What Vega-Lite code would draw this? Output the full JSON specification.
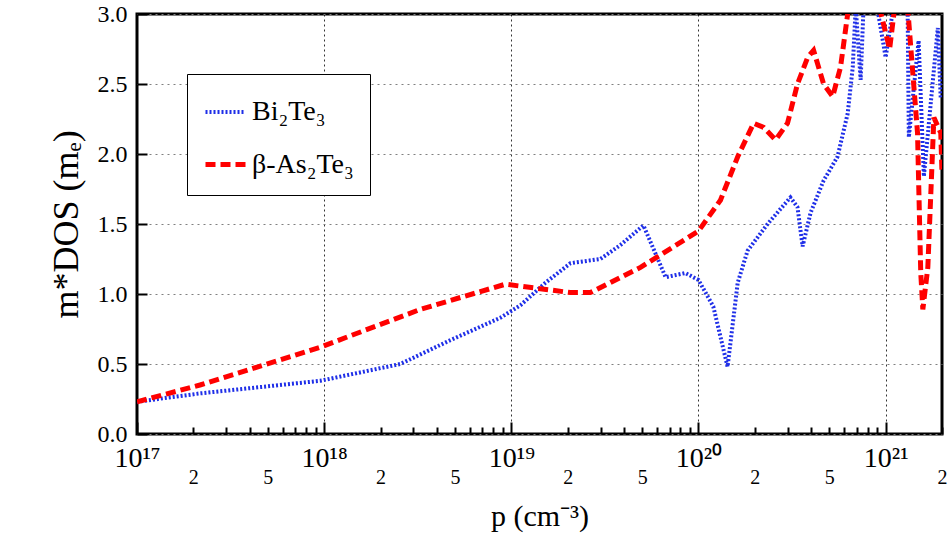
{
  "$schema": "https://vega.github.io/schema/vega-lite/v6.json",
  "width": 805,
  "height": 420,
  "autosize": "none",
  "padding": {"left": 137, "top": 14, "right": 8, "bottom": 122},
  "config": {
    "font": "Liberation Serif",
    "view": {"stroke": "black", "strokeWidth": 3}
  },
  "data": {"values": [
    {"p": 1e17, "m": 0.23, "s": "Bi₂Te₃"},
    {"p": 2.17e17, "m": 0.29, "s": "Bi₂Te₃"},
    {"p": 9.53e17, "m": 0.38, "s": "Bi₂Te₃"},
    {"p": 2.55e18, "m": 0.5, "s": "Bi₂Te₃"},
    {"p": 4.72e18, "m": 0.67, "s": "Bi₂Te₃"},
    {"p": 8.73e18, "m": 0.83, "s": "Bi₂Te₃"},
    {"p": 1.12e19, "m": 0.92, "s": "Bi₂Te₃"},
    {"p": 1.52e19, "m": 1.08, "s": "Bi₂Te₃"},
    {"p": 2.07e19, "m": 1.22, "s": "Bi₂Te₃"},
    {"p": 2.99e19, "m": 1.25, "s": "Bi₂Te₃"},
    {"p": 3.83e19, "m": 1.35, "s": "Bi₂Te₃"},
    {"p": 5.08e19, "m": 1.49, "s": "Bi₂Te₃"},
    {"p": 6.67e19, "m": 1.12, "s": "Bi₂Te₃"},
    {"p": 8.51e19, "m": 1.15, "s": "Bi₂Te₃"},
    {"p": 1e20, "m": 1.1, "s": "Bi₂Te₃"},
    {"p": 1.2e20, "m": 0.91, "s": "Bi₂Te₃"},
    {"p": 1.43e20, "m": 0.48, "s": "Bi₂Te₃"},
    {"p": 1.62e20, "m": 1.08, "s": "Bi₂Te₃"},
    {"p": 1.83e20, "m": 1.31, "s": "Bi₂Te₃"},
    {"p": 2.34e20, "m": 1.5, "s": "Bi₂Te₃"},
    {"p": 3.1e20, "m": 1.69, "s": "Bi₂Te₃"},
    {"p": 3.38e20, "m": 1.62, "s": "Bi₂Te₃"},
    {"p": 3.6e20, "m": 1.34, "s": "Bi₂Te₃"},
    {"p": 3.97e20, "m": 1.58, "s": "Bi₂Te₃"},
    {"p": 4.66e20, "m": 1.81, "s": "Bi₂Te₃"},
    {"p": 5.53e20, "m": 1.98, "s": "Bi₂Te₃"},
    {"p": 6.27e20, "m": 2.29, "s": "Bi₂Te₃"},
    {"p": 6.67e20, "m": 2.62, "s": "Bi₂Te₃"},
    {"p": 6.92e20, "m": 3.05, "s": "Bi₂Te₃"},
    {"p": 7.35e20, "m": 2.53, "s": "Bi₂Te₃"},
    {"p": 7.62e20, "m": 3.05, "s": "Bi₂Te₃"},
    {"p": 9e20, "m": 3.05, "s": "Bi₂Te₃"},
    {"p": 1e21, "m": 2.69, "s": "Bi₂Te₃"},
    {"p": 1.1e21, "m": 3.05, "s": "Bi₂Te₃"},
    {"p": 1.31e21, "m": 3.05, "s": "Bi₂Te₃"},
    {"p": 1.33e21, "m": 2.12, "s": "Bi₂Te₃"},
    {"p": 1.5e21, "m": 2.81, "s": "Bi₂Te₃"},
    {"p": 1.6e21, "m": 1.84, "s": "Bi₂Te₃"},
    {"p": 1.9e21, "m": 2.9, "s": "Bi₂Te₃"},
    {"p": 1.97e21, "m": 2.39, "s": "Bi₂Te₃"},
    {"p": 1e17, "m": 0.23, "s": "β-As₂Te₃"},
    {"p": 2.17e17, "m": 0.35, "s": "β-As₂Te₃"},
    {"p": 9.53e17, "m": 0.62, "s": "β-As₂Te₃"},
    {"p": 3.26e18, "m": 0.89, "s": "β-As₂Te₃"},
    {"p": 9.29e18, "m": 1.07, "s": "β-As₂Te₃"},
    {"p": 2.07e19, "m": 1.01, "s": "β-As₂Te₃"},
    {"p": 2.64e19, "m": 1.01, "s": "β-As₂Te₃"},
    {"p": 4.9e19, "m": 1.19, "s": "β-As₂Te₃"},
    {"p": 1e20, "m": 1.45, "s": "β-As₂Te₃"},
    {"p": 1.31e20, "m": 1.67, "s": "β-As₂Te₃"},
    {"p": 1.62e20, "m": 1.98, "s": "β-As₂Te₃"},
    {"p": 1.97e20, "m": 2.22, "s": "β-As₂Te₃"},
    {"p": 2.23e20, "m": 2.19, "s": "β-As₂Te₃"},
    {"p": 2.58e20, "m": 2.1, "s": "β-As₂Te₃"},
    {"p": 2.99e20, "m": 2.22, "s": "β-As₂Te₃"},
    {"p": 3.38e20, "m": 2.5, "s": "β-As₂Te₃"},
    {"p": 3.83e20, "m": 2.69, "s": "β-As₂Te₃"},
    {"p": 4.12e20, "m": 2.74, "s": "β-As₂Te₃"},
    {"p": 4.66e20, "m": 2.5, "s": "β-As₂Te₃"},
    {"p": 5.21e20, "m": 2.41, "s": "β-As₂Te₃"},
    {"p": 5.74e20, "m": 2.62, "s": "β-As₂Te₃"},
    {"p": 6.34e20, "m": 3.05, "s": "β-As₂Te₃"},
    {"p": 8.32e20, "m": 3.3, "s": "β-As₂Te₃"},
    {"p": 1.05e21, "m": 2.75, "s": "β-As₂Te₃"},
    {"p": 1.13e21, "m": 3.1, "s": "β-As₂Te₃"},
    {"p": 1.31e21, "m": 3.05, "s": "β-As₂Te₃"},
    {"p": 1.48e21, "m": 2.15, "s": "β-As₂Te₃"},
    {"p": 1.54e21, "m": 1.15, "s": "β-As₂Te₃"},
    {"p": 1.58e21, "m": 0.89, "s": "β-As₂Te₃"},
    {"p": 1.68e21, "m": 1.19, "s": "β-As₂Te₃"},
    {"p": 1.81e21, "m": 2.26, "s": "β-As₂Te₃"},
    {"p": 1.97e21, "m": 2.15, "s": "β-As₂Te₃"},
    {"p": 2e21, "m": 1.86, "s": "β-As₂Te₃"}
  ]},
  "mark": {"type": "line", "clip": true, "strokeCap": "butt"},
  "encoding": {
    "x": {
      "field": "p", "type": "quantitative",
      "scale": {"type": "log", "domain": [1e17, 2e21], "nice": false},
      "title": "p (cm⁻³)",
      "axis": {
        "values": [1e17,2e17,3e17,4e17,5e17,6e17,7e17,8e17,9e17,1e18,2e18,3e18,4e18,5e18,6e18,7e18,8e18,9e18,1e19,2e19,3e19,4e19,5e19,6e19,7e19,8e19,9e19,1e20,2e20,3e20,4e20,5e20,6e20,7e20,8e20,9e20,1e21,2e21],
        "labelExpr": "abs(log(datum.value)/LN10 - round(log(datum.value)/LN10)) < 0.001 ? '10' + ['¹⁷','¹⁸','¹⁹','²⁰','²¹'][round(log(datum.value)/LN10) - 17] : (round(datum.value / pow(10, floor(log(datum.value)/LN10 + 0.000001))) == 2 || round(datum.value / pow(10, floor(log(datum.value)/LN10 + 0.000001))) == 5 ? '' + round(datum.value / pow(10, floor(log(datum.value)/LN10 + 0.000001))) : '')",
        "labelFontSize": {"condition": {"test": "abs(log(datum.value)/LN10 - round(log(datum.value)/LN10)) < 0.001", "value": 28}, "value": 20},
        "labelPadding": {"condition": {"test": "abs(log(datum.value)/LN10 - round(log(datum.value)/LN10)) < 0.001", "value": 22}, "value": 40},
        "labelColor": "black",
        "labelFlush": false,
        "labelOverlap": false,
        "titleFontSize": 30, "titleFontWeight": "normal", "titleColor": "black", "titlePadding": 14,
        "domain": false,
        "tickColor": "black", "tickWidth": 2,
        "tickSize": {"condition": {"test": "abs(log(datum.value)/LN10 - round(log(datum.value)/LN10)) < 0.001", "value": -12}, "value": -7},
        "grid": true,
        "gridColor": "black", "gridDash": [2, 3], "gridWidth": 1,
        "gridOpacity": {"condition": {"test": "abs(log(datum.value)/LN10 - round(log(datum.value)/LN10)) < 0.001", "value": 0.8}, "value": 0}
      }
    },
    "y": {
      "field": "m", "type": "quantitative",
      "scale": {"domain": [0, 3], "nice": false},
      "title": "m*DOS (mₑ)",
      "axis": {
        "values": [0, 0.5, 1, 1.5, 2, 2.5, 3],
        "format": ".1f",
        "labelFontSize": 24, "labelColor": "black", "labelPadding": 20,
        "titleFontSize": 36, "titleFontWeight": "normal", "titleColor": "black", "titlePadding": 12,
        "domain": false,
        "tickColor": "black", "tickWidth": 2, "tickSize": -10,
        "gridColor": "grey", "gridDash": [2, 4], "gridWidth": 1
      }
    },
    "color": {
      "field": "s", "type": "nominal", "title": null,
      "scale": {"domain": ["Bi₂Te₃", "β-As₂Te₃"], "range": ["#1f2fe8", "#ff0000"]},
      "legend": {
        "orient": "none", "legendX": 50, "legendY": 60,
        "labelFontSize": 28, "labelColor": "black",
        "symbolType": "stroke", "symbolSize": 1600, "symbolStrokeWidth": 4,
        "strokeColor": "black", "padding": 16, "rowPadding": 16,
        "fillColor": "white"
      }
    },
    "strokeDash": {
      "field": "s", "type": "nominal",
      "scale": {"domain": ["Bi₂Te₃", "β-As₂Te₃"], "range": [[2, 2], [10, 5]]},
      "legend": null
    },
    "strokeWidth": {
      "field": "s", "type": "nominal",
      "scale": {"domain": ["Bi₂Te₃", "β-As₂Te₃"], "range": [4, 5]},
      "legend": null
    }
  }
}
